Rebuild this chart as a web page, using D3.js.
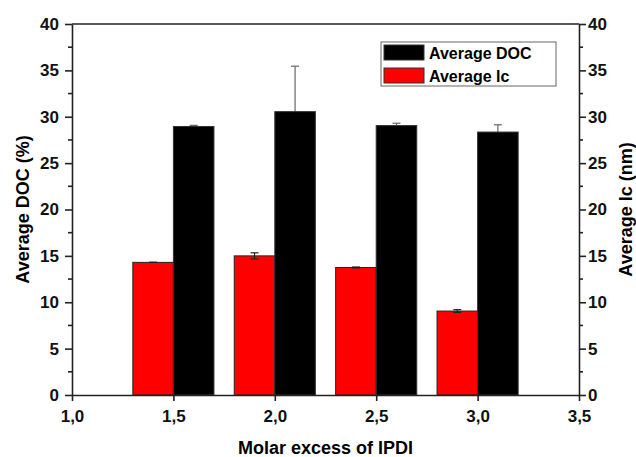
<!DOCTYPE html>
<html>
<head>
<meta charset="utf-8">
<script src="https://d3js.org/d3.v7.min.js"></script>
<style>
  body { margin: 0; background: #fff; }
  text { font-family: "Liberation Sans", Arial, sans-serif; font-weight: bold; }
  .axis path, .axis line { stroke: #222; stroke-width: 1.6px; }
</style>
</head>
<body>
<script>

var molar = [1.5, 2.0, 2.5, 3.0];
var docMean = [28.95, 30.55, 29.05, 28.35];
var docErr = [0.12, 4.9, 0.25, 0.78];
var lcMean = [14.3, 15.0, 13.75, 9.05];
var lcErr = [0.0, 0.33, 0.05, 0.15];
var xTicks = [1.0, 1.5, 2.0, 2.5, 3.0, 3.5];
var yTicks = [0, 5, 10, 15, 20, 25, 30, 35, 40];

var width = 636, height = 457;
var margin = {left: 72, right: 57, top: 24, bottom: 62};
var innerW = width - margin.left - margin.right;
var innerH = height - margin.top - margin.bottom;

var svg = d3.select("body").append("svg")
    .attr("width", width)
    .attr("height", height);

var g = svg.append("g")
    .attr("transform", "translate(" + margin.left + "," + margin.top + ")");

var x = d3.scaleLinear().domain([1.0, 3.5]).range([0, innerW]);
var y = d3.scaleLinear().domain([0, 40]).range([innerH, 0]);
var barW = 0.2;

var fmt = function (d) { return d3.format(".1f")(d).replace(".", ","); };

function errorBars(means, errs, offset, color) {
    var eb = g.append("g")
        .selectAll("g")
        .data(molar)
        .enter().append("g")
        .attr("stroke", color)
        .attr("stroke-width", 1.2);
    eb.append("line")
        .attr("x1", function (d) { return x(d + offset); })
        .attr("x2", function (d) { return x(d + offset); })
        .attr("y1", function (d, i) { return y(means[i] - errs[i]); })
        .attr("y2", function (d, i) { return y(means[i] + errs[i]); });
    [1, -1].forEach(function (s) {
        eb.append("line")
            .attr("x1", function (d) { return x(d + offset) - 4; })
            .attr("x2", function (d) { return x(d + offset) + 4; })
            .attr("y1", function (d, i) { return y(means[i] + s * errs[i]); })
            .attr("y2", function (d, i) { return y(means[i] + s * errs[i]); });
    });
}

// doc error bars sit behind the black bars
errorBars(docMean, docErr, barW / 2, "#666");

// bars: lc (red) left of the tick, doc (black) right of it
g.selectAll("rect.lc")
    .data(molar)
    .enter().append("rect")
    .attr("class", "lc")
    .attr("x", function (d) { return x(d - barW); })
    .attr("width", function (d) { return x(d) - x(d - barW); })
    .attr("y", function (d, i) { return y(lcMean[i]); })
    .attr("height", function (d, i) { return y(0) - y(lcMean[i]); })
    .attr("fill", "#ff0000")
    .attr("stroke", "#222")
    .attr("stroke-width", 1);

g.selectAll("rect.doc")
    .data(molar)
    .enter().append("rect")
    .attr("class", "doc")
    .attr("x", function (d) { return x(d); })
    .attr("width", function (d) { return x(d + barW) - x(d); })
    .attr("y", function (d, i) { return y(docMean[i]); })
    .attr("height", function (d, i) { return y(0) - y(docMean[i]); })
    .attr("fill", "#000")
    .attr("stroke", "#333")
    .attr("stroke-width", 1);

errorBars(lcMean, lcErr, -barW / 2, "#222");

// frame top line
g.append("line")
    .attr("x1", 0).attr("x2", innerW)
    .attr("y1", 0).attr("y2", 0)
    .attr("stroke", "#222").attr("stroke-width", 1.6);

function styleTicks(sel) {
    sel.attr("font-family", null).attr("font-size", null);
    sel.selectAll("text")
        .style("font-family", "'Liberation Sans', Arial, sans-serif")
        .style("font-weight", "bold")
        .style("font-size", "17px")
        .style("fill", "#111");
}

// axes
g.append("g")
    .attr("class", "axis")
    .attr("transform", "translate(0," + innerH + ")")
    .call(d3.axisBottom(x).tickValues(xTicks).tickFormat(fmt).tickSize(6).tickSizeOuter(0).tickPadding(9))
    .call(styleTicks);

g.append("g")
    .attr("class", "axis")
    .call(d3.axisLeft(y).tickValues(yTicks).tickSize(7).tickSizeOuter(0).tickPadding(6))
    .call(styleTicks);

g.append("g")
    .attr("class", "axis")
    .attr("transform", "translate(" + innerW + ",0)")
    .call(d3.axisRight(y).tickValues(yTicks).tickSize(7).tickSizeOuter(0).tickPadding(2))
    .call(styleTicks);

// minor ticks
var minor = d3.range(2.5, 40, 5);
g.selectAll("line.minorL")
    .data(minor).enter().append("line")
    .attr("x1", 0).attr("x2", -4)
    .attr("y1", y).attr("y2", y)
    .attr("stroke", "#222").attr("stroke-width", 1.6);
g.selectAll("line.minorR")
    .data(minor).enter().append("line")
    .attr("x1", innerW).attr("x2", innerW + 4)
    .attr("y1", y).attr("y2", y)
    .attr("stroke", "#222").attr("stroke-width", 1.6);

// axis titles
svg.append("text")
    .attr("transform", "translate(29," + (margin.top + innerH / 2) + ") rotate(-90)")
    .attr("text-anchor", "middle")
    .attr("font-size", 18)
    .text("Average DOC (%)");

svg.append("text")
    .attr("transform", "translate(632," + (margin.top + innerH / 2) + ") rotate(-90)")
    .attr("text-anchor", "middle")
    .attr("font-size", 18)
    .text("Average lc (nm)");

svg.append("text")
    .attr("x", margin.left + innerW / 2)
    .attr("y", 454)
    .attr("text-anchor", "middle")
    .attr("font-size", 18)
    .text("Molar excess of IPDI");

// legend
var legend = svg.append("g").attr("transform", "translate(381,42)");
legend.append("rect")
    .attr("width", 175).attr("height", 44)
    .attr("fill", "#fff").attr("stroke", "#666").attr("stroke-width", 1);
var items = [{label: "Average DOC", color: "#000"}, {label: "Average lc", color: "#ff0000"}];
items.forEach(function (it, i) {
    legend.append("rect")
        .attr("x", 3).attr("y", 3 + i * 23)
        .attr("width", 40).attr("height", 15)
        .attr("fill", it.color).attr("stroke", "#333").attr("stroke-width", 1);
    legend.append("text")
        .attr("x", 48).attr("y", 17 + i * 23)
        .attr("font-size", 16)
        .text(it.label);
});

</script>
</body>
</html>
